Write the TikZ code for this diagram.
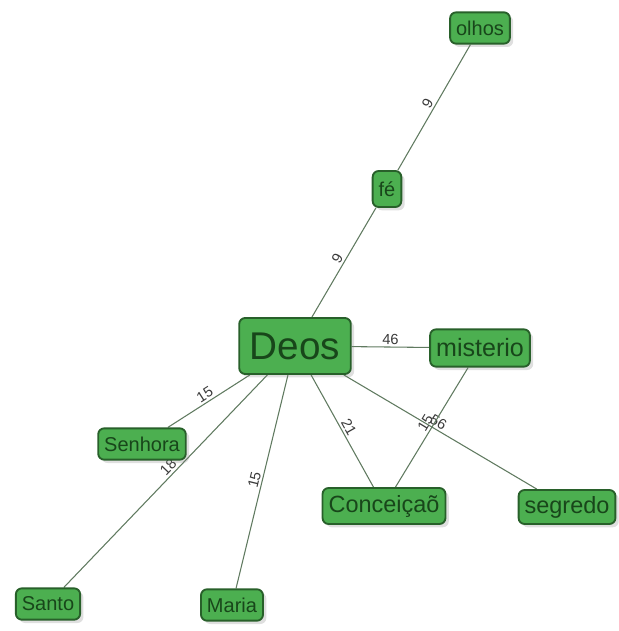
\documentclass[tikz,border=0pt]{standalone}
\usepackage{fontspec}
\setmainfont{Liberation Sans}
\usetikzlibrary{shadows, backgrounds}
\definecolor{wordfill}{HTML}{4CAF50}
\definecolor{wordline}{HTML}{28602A}
\definecolor{wordtext}{HTML}{18461A}
\definecolor{linkline}{HTML}{607A60}
\definecolor{linktext}{HTML}{3A3A3A}
\tikzstyle{word} = [draw=wordline, fill=wordfill, text=wordtext, line width=1.4pt,
    rounded corners=4.5pt, inner xsep=4.5pt, inner ysep=2pt,
    drop shadow={opacity=0.25, shadow xshift=2.5pt, shadow yshift=-2.5pt}]
\tikzstyle{small} = [word, font=\fontsize{15}{18}\selectfont, minimum height=23.5pt]
\tikzstyle{mid} = [word, font=\fontsize{17.6}{21}\selectfont, minimum height=26pt]
\tikzstyle{big} = [word, font=\fontsize{29}{34}\selectfont, minimum height=42pt, inner xsep=8pt]
\tikzstyle{link} = [draw=linkline, line width=0.8pt]
\tikzstyle{weight} = [midway, sloped, above, text=linktext, inner sep=1.5pt,
    font=\fontsize{11}{13}\selectfont]

\begin{document}
\begin{tikzpicture}[x=0.75pt, y=-0.75pt]
        \useasboundingbox (0, 0) rectangle (618, 631);

        \node [small] (olhos) at (480, 28) {olhos};
        \node [small, minimum height=27pt] (fe) at (387, 189) {fé};
        \node [big] (deos) at (295, 346) {Deos};
        \node [mid, font=\fontsize{18.8}{22}\selectfont, minimum height=28pt] (misterio) at (480, 348) {misterio};
        \node [small] (senhora) at (142, 444) {Senhora};
        \node [mid, minimum height=27pt] (conceicao) at (384, 506) {Conceiçaõ};
        \node [mid, minimum height=25.5pt] (segredo) at (567, 507) {segredo};
        \node [small] (santo) at (48, 604) {Santo};
        \node [small] (maria) at (232, 605) {Maria};

        % edges behind the words
        \begin{pgfonlayer}{background}
        \draw [link] (olhos) -- node [weight] {9} (fe); \draw [link] (fe) -- node [weight] {9} (deos);
        \draw [link] (deos) -- node [weight] {46} (misterio);
        \draw [link] (deos) -- node [weight] {15} (senhora); \draw [link] (deos) -- node [weight, pos=0.46] {18} (santo);
        \draw [link] (deos) -- node [weight] {15} (maria); \draw [link] (deos) -- node [weight] {21} (conceicao);
        \draw [link] (deos) -- node [weight, pos=0.47] {56} (segredo); \draw [link] (misterio) -- node [weight] {15} (conceicao);
        \end{pgfonlayer}
    \end{tikzpicture}
\end{document}
